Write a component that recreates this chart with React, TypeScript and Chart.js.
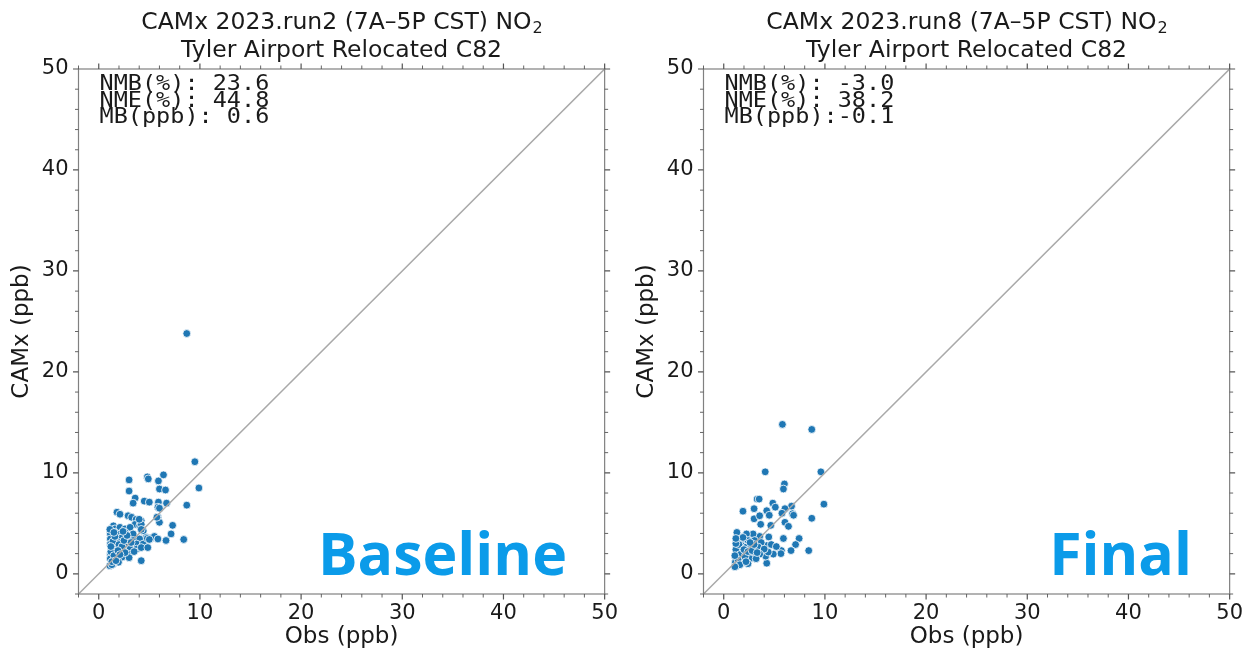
import React, { useEffect, useRef } from "react";
import { Chart, registerables } from "chart.js";

Chart.register(...registerables);

// ---------- data ----------
const tickValues = [0, 10, 20, 30, 40, 50];
const axisMin = -2;
const axisMax = 50;
const minorStep = 2;

const obsBaseline = [
  8.7, 9.5, 9.9, 8.7, 8.4, 3.0, 4.8, 4.9, 5.9, 6.4, 3.0, 6.0, 6.6, 3.6, 3.4, 4.5, 5.0, 5.9, 6.7,
  5.85, 6.0, 1.8, 2.1, 2.9, 3.25, 3.7, 4.2, 5.85, 6.0, 3.6, 4.05, 1.45, 1.6, 2.1, 2.6, 3.1, 7.3,
  4.4, 3.4, 1.15, 1.6, 2.1, 2.6, 7.15, 4.7, 5.2, 5.5, 5.85, 6.65, 1.15, 1.8, 2.3, 2.9, 3.4, 4.05,
  1.15, 1.6, 2.1, 2.75, 3.25, 3.75, 4.4, 1.3, 1.8, 2.45, 3.1, 3.75, 4.2, 4.85, 1.15, 1.8, 2.3,
  2.9, 1.15, 1.8, 2.3, 1.45, 1.95, 4.2, 1.1, 1.3, 3.0, 1.1, 4.8, 5.0, 4.2, 4.2, 4.0, 5.75,
  1.2, 1.5, 1.4, 1.6, 2.0, 2.3, 2.5, 1.9, 2.6, 1.3, 1.7, 2.1, 2.8, 3.2, 2.4, 1.2, 1.5, 3.5,
];
const camxBaseline = [
  23.8, 11.1, 8.5, 6.8, 3.4, 9.3, 9.6, 9.4, 9.2, 9.8, 8.2, 8.4, 8.3, 7.5, 7.0, 7.2, 7.1, 7.1, 7.0,
  6.6, 6.5, 6.1, 5.9, 5.75, 5.6, 5.4, 5.25, 5.6, 5.1, 4.9, 4.75, 4.75, 4.45, 4.6, 4.45, 4.6, 4.8,
  4.25, 3.95, 3.95, 4.1, 3.95, 4.1, 3.95, 3.6, 3.55, 3.7, 3.45, 3.3, 3.45, 3.45, 3.6, 3.45, 3.3, 3.45,
  2.95, 2.95, 3.1, 2.95, 2.8, 2.95, 2.95, 2.45, 2.6, 2.45, 2.45, 2.45, 2.6, 2.6, 1.95, 1.95, 2.1,
  1.95, 1.5, 1.65, 1.65, 1.0, 1.15, 1.3, 0.8, 0.9, 1.6, 4.4, 3.5, 3.4, 4.9, 4.4, 5.4, 5.6,
  2.2, 1.8, 3.2, 3.7, 2.9, 2.7, 3.3, 2.3, 2.1, 1.2, 1.3, 1.9, 3.8, 3.1, 4.2, 2.7, 4.1, 2.2,
];

const obsFinal = [
  5.8, 8.7, 4.1, 9.6, 6.0, 5.9, 9.9, 3.3, 3.5, 8.7, 8.4,
  4.85, 5.1, 6.7, 6.05, 5.75, 1.9, 3.0, 4.25, 4.5, 6.8, 6.9, 3.0, 3.55, 6.05, 6.4, 3.65, 4.65,
  5.9, 7.45, 7.1, 6.65, 5.7, 5.65, 4.9, 4.25, 4.45, 4.25, 4.7, 5.2, 4.15, 4.4,
  3.55, 2.9, 2.25, 1.3, 1.75, 2.4, 3.05, 3.7, 1.3, 1.75, 2.25, 2.75, 3.4, 4.0, 1.3, 1.75, 2.25,
  2.9, 3.55, 1.45, 1.95, 2.6, 3.2, 1.15, 1.75, 2.4, 1.3,
  1.2, 1.5, 1.6, 2.0, 2.1, 2.4, 1.4, 1.1, 2.8, 3.0, 1.9, 2.6, 1.2, 3.3, 1.6, 2.2, 1.3, 1.2, 1.1,
];
const camxFinal = [
  14.8, 14.3, 10.1, 10.1, 8.9, 8.4, 6.9, 7.4, 7.4, 5.5, 2.3,
  7.0, 6.6, 6.7, 6.45, 6.0, 6.2, 6.45, 6.25, 5.8, 5.95, 5.8, 5.45, 5.75, 5.1, 4.7, 4.9, 4.8,
  3.5, 3.5, 2.9, 2.3, 2.3, 2.0, 1.95, 1.05, 3.65, 2.8, 2.9, 2.7, 1.75, 2.15,
  3.7, 3.95, 3.95, 3.45, 3.3, 3.3, 3.3, 3.1, 2.65, 2.8, 2.65, 2.65, 2.65, 2.45, 2.15, 2.15, 1.95,
  1.95, 1.95, 1.65, 1.5, 1.5, 1.5, 1.15, 1.15, 1.0, 0.8,
  2.4, 2.9, 1.9, 2.4, 1.7, 2.2, 1.4, 1.8, 2.3, 2.9, 3.6, 3.1, 3.0, 2.1, 0.9, 1.2, 4.1, 3.5, 0.7,
];

const titleBaseline = "CAMx 2023.run2 (7A–5P CST) NO";
const titleFinal = "CAMx 2023.run8 (7A–5P CST) NO";
const titleSubscript = "2";
const siteName = "Tyler Airport Relocated C82";
const statsBaseline = ["NMB(%): 23.6", "NME(%): 44.8", "MB(ppb): 0.6"];
const statsFinal = ["NMB(%): -3.0", "NME(%): 38.2", "MB(ppb):-0.1"];
const xTitle = "Obs (ppb)";
const yTitle = "CAMx (ppb)";

const FONT = '"DejaVu Sans", sans-serif';
const MONO = '"DejaVu Sans Mono", monospace';

type PanelProps = {
  obs: number[];
  camx: number[];
  title: string;
  stats: string[];
  badge: string;
  left: number;
};

function Panel({ obs, camx, title, stats, badge, left }: PanelProps) {
  const ref = useRef<HTMLCanvasElement | null>(null);

  useEffect(() => {
    const canvas = ref.current;
    if (!canvas) return;

    const overlay = {
      id: "overlay",
      afterDraw(chart: any) {
        const { ctx, chartArea: a, scales } = chart;
        const xs = scales.x;
        const ys = scales.y;
        ctx.save();
        // frame
        ctx.strokeStyle = "#808080";
        ctx.lineWidth = 1.2;
        ctx.strokeRect(a.left, a.top, a.right - a.left, a.bottom - a.top);
        // ticks (outward, all four sides)
        ctx.strokeStyle = "#555555";
        const drawTick = (v: number, len: number, w: number) => {
          ctx.lineWidth = w;
          const px = xs.getPixelForValue(v);
          const py = ys.getPixelForValue(v);
          ctx.beginPath();
          ctx.moveTo(px, a.bottom);
          ctx.lineTo(px, a.bottom + len);
          ctx.moveTo(px, a.top);
          ctx.lineTo(px, a.top - len);
          ctx.moveTo(a.left, py);
          ctx.lineTo(a.left - len, py);
          ctx.moveTo(a.right, py);
          ctx.lineTo(a.right + len, py);
          ctx.stroke();
        };
        for (let v = axisMin; v <= axisMax + 1e-9; v += minorStep) {
          if (!tickValues.includes(v)) drawTick(v, 3.5, 0.9);
        }
        tickValues.forEach((v) => drawTick(v, 5.5, 1.2));

        const cx = (a.left + a.right) / 2;
        // title
        ctx.fillStyle = "#1a1a1a";
        ctx.textBaseline = "middle";
        ctx.font = `23.5px ${FONT}`;
        const w1 = ctx.measureText(title).width;
        ctx.font = `16px ${FONT}`;
        const w2 = ctx.measureText(titleSubscript).width;
        const start = cx - (w1 + w2) / 2;
        ctx.font = `23.5px ${FONT}`;
        ctx.textAlign = "left";
        ctx.fillText(title, start, 23);
        ctx.font = `16px ${FONT}`;
        ctx.fillText(titleSubscript, start + w1 + 1, 29);
        ctx.font = `23.5px ${FONT}`;
        ctx.textAlign = "center";
        ctx.fillText(siteName, cx, 51);

        // axis titles
        ctx.font = `23px ${FONT}`;
        ctx.fillText(xTitle, cx, 637);
        ctx.save();
        ctx.translate(22, (a.top + a.bottom) / 2);
        ctx.rotate(-Math.PI / 2);
        ctx.fillText(yTitle, 0, 0);
        ctx.restore();

        // stats (monospace, slightly condensed vertically)
        ctx.font = `23.5px ${MONO}`;
        ctx.textAlign = "left";
        stats.forEach((s, i) => {
          ctx.save();
          ctx.translate(a.left + 21, 85 + i * 16.5);
          ctx.scale(1, 0.9);
          ctx.fillText(s, 0, 0);
          ctx.restore();
        });

        // badge
        ctx.font = `bold 59px "Open Sans", "DejaVu Sans", sans-serif`;
        ctx.fillStyle = "#0b9be9";
        ctx.textAlign = "right";
        ctx.textBaseline = "alphabetic";
        ctx.fillText(badge, 567, 575);
        ctx.restore();
      },
    };

    const tickFont = { family: FONT, size: 21 };

    const chart = new Chart(canvas, {
      type: "scatter",
      data: {
        datasets: [
          {
            type: "line",
            data: [
              { x: axisMin, y: axisMin },
              { x: axisMax, y: axisMax },
            ],
            borderColor: "#a9a9a9",
            borderWidth: 1.5,
            pointRadius: 0,
            order: 0,
          } as any,
          {
            type: "scatter",
            data: obs.map((x, i) => ({ x, y: camx[i] })),
            backgroundColor: "#1f77b4",
            borderColor: "#ffffff",
            borderWidth: 0.8,
            pointRadius: 3.9,
            order: 1,
          } as any,
        ],
      },
      options: {
        responsive: false,
        animation: false,
        devicePixelRatio: 1,
        layout: { padding: { top: 69, right: 16, left: 0, bottom: 0 } },
        plugins: {
          legend: { display: false },
          tooltip: { enabled: false },
          title: { display: false },
        },
        scales: {
          x: {
            type: "linear",
            min: axisMin,
            max: axisMax,
            afterBuildTicks: (s: any) => {
              s.ticks = tickValues.map((v) => ({ value: v }));
            },
            afterFit: (s: any) => {
              s.height = 55;
            },
            grid: { display: false, drawTicks: false },
            border: { display: false },
            ticks: {
              font: tickFont,
              color: "#1a1a1a",
              padding: 7,
              maxRotation: 0,
              autoSkip: false,
            },
          },
          y: {
            type: "linear",
            min: axisMin,
            max: axisMax,
            afterBuildTicks: (s: any) => {
              s.ticks = tickValues.map((v) => ({ value: v }));
            },
            afterFit: (s: any) => {
              s.width = 78.5;
            },
            grid: { display: false, drawTicks: false },
            border: { display: false },
            ticks: {
              font: tickFont,
              color: "#1a1a1a",
              padding: 10,
              autoSkip: false,
            },
          },
        },
      } as any,
      plugins: [overlay],
    });

    return () => chart.destroy();
  }, [obs, camx, title, stats, badge]);

  return (
    <canvas
      ref={ref}
      width={625}
      height={649}
      style={{ position: "absolute", left, top: 0, width: 625, height: 649 }}
    />
  );
}

export default function App() {
  return (
    <div
      style={{
        position: "absolute",
        left: 0,
        top: 0,
        width: 1250,
        height: 649,
        background: "#ffffff",
        overflow: "hidden",
      }}
    >
      <Panel
        obs={obsBaseline}
        camx={camxBaseline}
        title={titleBaseline}
        stats={statsBaseline}
        badge="Baseline"
        left={0}
      />
      <Panel
        obs={obsFinal}
        camx={camxFinal}
        title={titleFinal}
        stats={statsFinal}
        badge="Final"
        left={625}
      />
    </div>
  );
}
